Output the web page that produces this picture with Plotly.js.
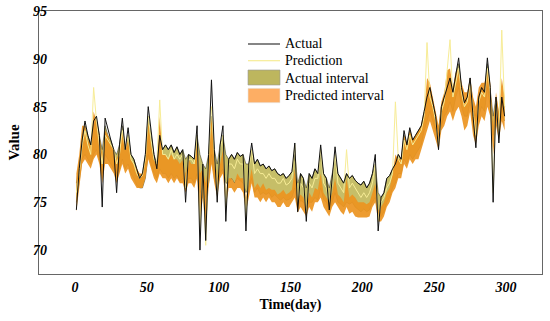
<!DOCTYPE html>
<html><head><meta charset="utf-8">
<script src="https://cdn.plot.ly/plotly-3.0.1.min.js"></script>
<style>html,body{margin:0;padding:0;background:#fff}#chart{width:550px;height:321px}</style>
</head><body><div id="chart"></div>
<script>
// Day index: 1,3,5,...,299 (every second day)
const actual = [74.2,78.5,81.5,83.5,82,81,83.5,84,82,74.5,
83.8,82.5,81.5,80.5,76,81,83.8,80.5,82.8,80,
79.5,78.5,77.5,78,80,85,82.5,80,78.5,82,
80.5,81,80.5,81,80.2,80.8,80,80.5,75,80,
79.8,79.5,83,70,79,71,80,87.8,80.5,75,
81,83,73,79.5,80,79.5,80.2,79.8,80,72,
79,81.2,79,79.5,78.8,79,78.5,78.8,78.3,78.5,
78,77.8,78,77.5,77.8,78.2,81.2,74,78,77.5,
73,78,77.5,78.5,78,81,78,77.5,74.2,78,
80.8,78,77.5,77,78,77.5,77.8,77.3,77,76.8,
77.2,76.5,77,78,80,72,75.5,76,77.5,77.8,
78.5,79,80,79.5,82.5,81,82.8,81.5,82,82.5,
83,84.5,86,87,85.5,84,80.5,85,86,87,
88,86.5,88.5,90.1,87,85.4,86,88,84,80.7,
86,87,86.5,90.1,87,75,86,81.2,86,84];

const prediction = [76,78,81,82.5,81,80,87,83.5,81,79,
82,81.5,81,80.5,79,80,82.5,80.5,82,79.5,
79,78,77.5,77.8,79.5,84,81.5,79.5,79,85.7,
80,80,79.5,80.5,79.5,80,79.5,80,76.5,79.5,
79.5,79,82,72,79,70.5,79.5,85,80,76,
80.5,82,74.5,79,79,78.5,79.5,79,79,73.5,
78.5,80.5,78,78.5,78,78,77.5,78,77.5,77.5,
77,77,77.5,76.8,77,77.5,81,75,77,76.5,
74,77,76.5,77.5,77.5,80.5,77,76.5,75,77,
80,77,76.5,76,80.5,76.5,77,76.5,76,75.5,
76,75.5,76,77,79,73,75,75.5,76.5,77,
78,85.5,79.5,79,81.5,80.5,82,81,81.5,82,
82.5,84,91.7,86,85,83.5,81,84.5,85.5,88.8,
92,86,87.5,89,86.5,85,85.5,87.5,84.5,82,
85.5,86.5,86,89,86.5,76,85.5,82,93,85];

const actualLow = [75,77.5,79.5,80,79.5,79,80,80.5,79.5,78,
80,79.5,79,78.5,78,78.5,79.5,78.5,79,78,
77.5,76.8,76.5,76.5,77.5,80,79,78,77.5,78.5,
78,78,77.5,78,77.5,77.8,77.2,77.5,76.5,77.5,
77.5,77,78,76,76.5,75.5,77,80,77.5,76.5,
78,78.5,77,77,77.5,77,77.5,77.2,77,76,
76.5,77.5,76,76.5,75.8,76,75.8,76,75.5,75.8,
75.5,75.2,75.5,75.2,75.3,75.5,76.5,74.5,75.2,75,
74.5,75,75,75.5,75.2,76.5,75.3,75,74,75,
76,75,74.8,74.5,75,74.8,75,74.5,74.2,74,
74.3,74,74.2,75,75.5,73.8,73.5,74,75,75.5,
76.5,77,78,78,79.5,79,80,79.5,80,80.5,
81,82.5,83.5,84.5,83.5,82.5,81.5,83,84,84.5,
85.5,84.5,86,87,85,84,84,85.5,83,82.5,
84,85,84.5,87,85,82,84,82.5,84,83.5];

const actualHigh = [77,79,81.5,83,82,81,83,83.5,82,80.5,
83,82,81.5,80.5,80,81,83,80.5,82,80,
79.5,78.5,77.8,78,80,84,82,80,79,81.5,
80.5,81,80.5,81,80.2,80.8,80,80.5,79.5,80,
79.8,79.5,82,80,79,78.5,80,84,80.5,79,
81,82,80,79.5,80,79.5,80.2,79.8,80,79,
79,80.5,79,79.5,78.8,79,78.5,78.8,78.3,78.5,
78,77.8,78,77.5,77.8,78.2,80,77,78,77.5,
76.5,78,77.5,78.5,78,80,78,77.5,76.5,78,
79.5,78,77.5,77,78,77.5,77.8,77.3,77,76.8,
77.2,76.5,77,78,79,76,75.5,76,77.5,77.8,
78.5,79,80,79.5,82,81,82.5,81.5,82,82.5,
83,84.5,86,87,85.5,84,82.5,85,86,87,
88,86.5,88.5,89.5,87,85.5,86,88,85,84,
86,87,86.5,89.5,87,84,86,84,86,85];

const predLow = [74,76.5,79,79.5,79,78.5,79.5,80,79,77,
79,79,78.5,78,77,78,79,78,78.5,77.5,
77,76.5,76.5,76.5,77.5,79.5,78.5,77.5,77,78,
77.5,77.5,77,77.5,77,77.5,77,77,76,77,
77,76.5,77.5,73,75.5,72,76.5,79,77,75.5,
77.5,78,74.5,76.5,76.5,76,76.5,76.5,76,74,
75.5,77,75.5,75.5,75,75.5,75,75.5,75,75,
74.5,74.5,75,74.5,74.5,75,75.5,73.9,74.5,74,
73.5,74.5,74,75,75,75.5,74.5,74,73.5,74.5,
75,74.5,74,73.7,74.5,73.8,74,73.5,73.4,73.4,
73.4,73.4,73.5,74.5,75,73,73,73.5,74.5,75,
76,76.5,77.5,77.5,79,78.5,79.5,79,79.5,79.5,
80.5,81.5,82.5,83.5,82.5,81.5,80.5,82.5,83,84,
84.5,83.5,84.5,85,84,82.5,83,84.5,82,81,
83,84,83.5,85,84,80,83,81.5,83.5,82.5];

const predHigh = [78,80,83,83,81.5,81,84.5,83.5,82,80,
82.5,82,81,80.5,79.5,80.5,82.5,80.5,81.5,79.5,
79,78.5,78,78,79.5,83.5,81,79.5,79,84,
80,80,79.5,80,79.5,79.5,79,79.5,78,79.5,
79,79,81.5,78,78.5,77,79,84,80,77.5,
79,80.5,76,77.5,77.5,77,78,77.5,77.5,75.5,
77,78.5,76.5,77,76.5,77,76.3,76.5,76.3,76.3,
75.8,76,76.3,75.8,76,76.3,78.5,75.5,75.8,75.5,
74.5,76,75.5,76.5,76.3,78,76,75.5,75,76,
77.5,75.8,75.5,75,77.5,75.5,75.8,75.5,75,75,
75,74.8,75,76,77,74.2,74.5,75,76,76.5,
78,80,79.5,79.5,82,81,82.5,81.5,82,82.5,
83,84.5,88,87.5,86,84.5,83,85.5,86.5,88.8,
89,87,88.5,89,87.5,86.5,86.5,88,86,85,
87,87.5,87.5,89,87.5,83,86.5,84.5,88,86];

const xTicks = [0,50,100,150,200,250,300];
const yTicks = [70,75,80,85,90,95];
const legendLabels = ['Actual', 'Prediction', 'Actual interval', 'Predicted interval'];

const days = actual.map((_, i) => 1 + 2 * i);
const serif = 'Liberation Serif';

const colActual = '#111111', colPred = '#F7EC96';
const colAInt = '#C6BE68', colPInt = 'rgba(236,148,32,0.92)';

const traces = [
  {x: days, y: actualLow, type: 'scatter', mode: 'lines', name: 'Actual interval (low)', line: {color: 'rgba(40,40,20,0.7)', width: 0.7}, hoverinfo: 'skip'},
  {x: days, y: actualHigh, type: 'scatter', mode: 'lines', name: legendLabels[2], fill: 'tonexty', fillcolor: colAInt, line: {color: 'rgba(40,40,20,0.7)', width: 0.7}},
  {x: days, y: predLow, type: 'scatter', mode: 'lines', name: 'Predicted interval (low)', line: {color: 'rgba(0,0,0,0)', width: 0}, hoverinfo: 'skip'},
  {x: days, y: predHigh, type: 'scatter', mode: 'lines', name: legendLabels[3], fill: 'tonexty', fillcolor: colPInt, line: {color: 'rgba(0,0,0,0)', width: 0}},
  {x: days, y: prediction, type: 'scatter', mode: 'lines', name: legendLabels[1], line: {color: colPred, width: 1}},
  {x: days, y: actual, type: 'scatter', mode: 'lines', name: legendLabels[0], line: {color: colActual, width: 1}}
];

// legend drawn in paper coordinates (pixel positions converted for 503x263 plot area)
const px = v => (v - 39) / 503;
const py = v => (274 - v) / 263;
const shapes = [
  {type: 'line', xref: 'paper', yref: 'paper', x0: px(248), x1: px(280), y0: py(44), y1: py(44), line: {color: '#333', width: 1.2}},
  {type: 'line', xref: 'paper', yref: 'paper', x0: px(248), x1: px(280), y0: py(60.7), y1: py(60.7), line: {color: '#F7EC96', width: 1.2}},
  {type: 'rect', xref: 'paper', yref: 'paper', x0: px(248), x1: px(280), y0: py(85), y1: py(70), fillcolor: '#BDB65E', line: {color: '#999', width: 0.6}},
  {type: 'rect', xref: 'paper', yref: 'paper', x0: px(248), x1: px(280), y0: py(102.7), y1: py(88.3), fillcolor: '#FDAE64', line: {color: '#e6e6e6', width: 0.6}}
];
const legendY = [44, 60.7, 78.8, 95.5];
const annotations = legendLabels.map((t, i) => ({
  text: t, xref: 'paper', yref: 'paper', x: px(283), y: py(legendY[i]), xanchor: 'left', yanchor: 'middle',
  showarrow: false, font: {family: serif, size: 14, color: '#000'}
}));

const layout = {
  width: 550, height: 321,
  margin: {l: 39, r: 8, t: 11, b: 47},
  paper_bgcolor: '#fff', plot_bgcolor: '#fff',
  font: {family: serif, color: '#000'},
  showlegend: false,
  shapes: shapes,
  annotations: annotations,
  xaxis: {range: [-25, 325], tickvals: xTicks, ticktext: xTicks.map(String), showgrid: false, zeroline: false,
          showline: true, mirror: true, linecolor: '#666', linewidth: 1.2, ticks: '',
          tickfont: {family: serif, size: 14, weight: 'bold', style: 'italic'},
          title: {text: 'Time(day)', font: {family: serif, size: 14, weight: 'bold'}, standoff: 5}},
  yaxis: {range: [67.5, 95], tickvals: yTicks, ticktext: yTicks.map(String), showgrid: false, zeroline: false,
          showline: true, mirror: true, linecolor: '#666', linewidth: 1.2, ticks: 'outside', ticklen: 0, ticklabelstandoff: -12,
          tickfont: {family: serif, size: 14, weight: 'bold', style: 'italic'},
          title: {text: 'Value', font: {family: serif, size: 15, weight: 'bold'}, standoff: 9}}
};

Plotly.newPlot('chart', traces, layout, {staticPlot: true, displayModeBar: false});
</script></body></html>
